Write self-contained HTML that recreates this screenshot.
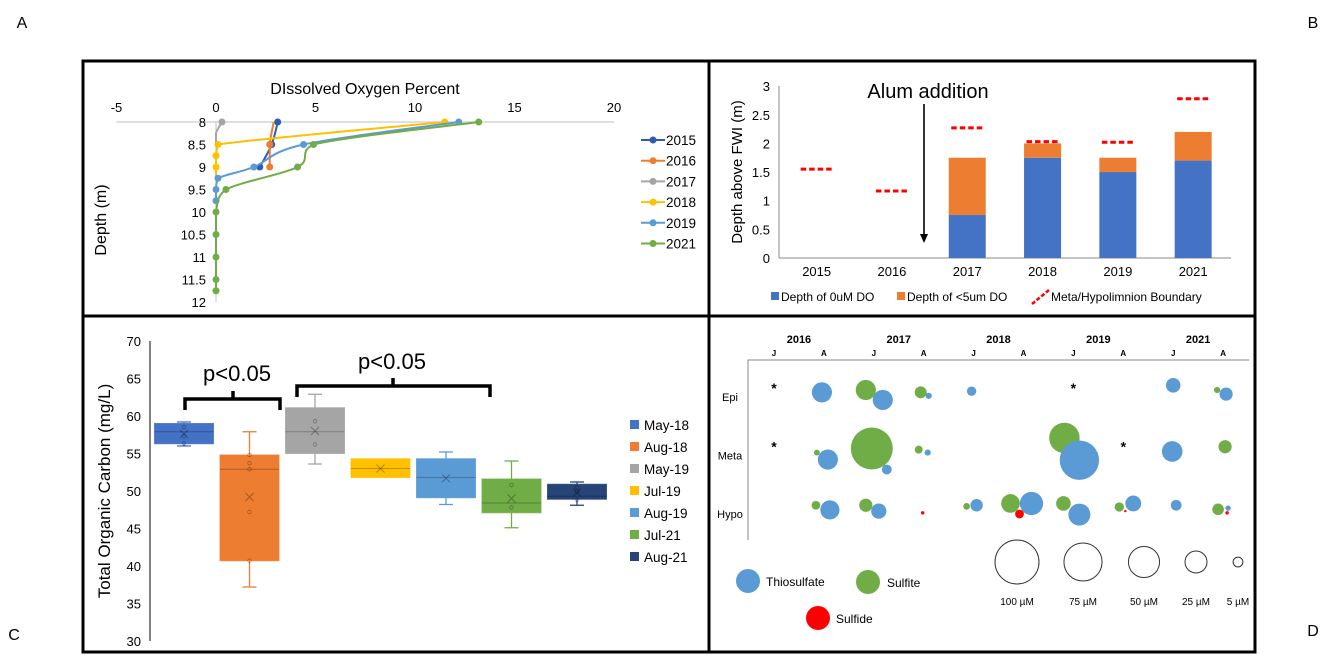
<!DOCTYPE html>
<html><head><meta charset="utf-8"><style>
html,body{margin:0;padding:0;background:#fff}
svg{display:block;font-family:"Liberation Sans",sans-serif}
</style></head><body>
<svg id="fig" width="1325" height="658" viewBox="0 0 1325 658">
<text x="22" y="28" font-size="16" text-anchor="middle">A</text>
<text x="1313" y="28" font-size="16" text-anchor="middle">B</text>
<text x="14" y="640" font-size="16" text-anchor="middle">C</text>
<text x="1313" y="636" font-size="16" text-anchor="middle">D</text>
<rect x="83" y="61" width="1172" height="591" fill="none" stroke="#000" stroke-width="3"/>
<line x1="709" y1="61" x2="709" y2="652" stroke="#000" stroke-width="3"/>
<line x1="83" y1="316" x2="1255" y2="316" stroke="#000" stroke-width="3"/>
<g id="pA"></g>
<g id="pB"></g>
<g id="pC"></g>
<g id="pD"></g>
</svg>
<script>
const NS='http://www.w3.org/2000/svg';
function mk(p,t,a,txt){const e=document.createElementNS(NS,t);for(const k in a)e.setAttribute(k,a[k]);if(txt!==undefined)e.textContent=txt;p.appendChild(e);return e;}

// ===== Panel A data =====
const doYears=['2015','2016','2017','2018','2019','2021'];
const doColors=['#2F5DAE','#ED7D31','#A5A5A5','#FFC000','#5B9BD5','#70AD47'];
const do2015=[[3.1,8],[2.8,8.5],[2.2,9]];
const do2016=[[2.9,8],[2.7,8.5],[2.7,9]];
const do2017=[[0.3,8],[0,8.25],[0,8.5]];
const do2018=[[11.5,8],[0.1,8.5],[0,8.75],[0,9],[0,9.25]];
const do2019=[[12.2,8],[4.4,8.5],[1.9,9],[0.1,9.25],[0,9.5],[0,9.75]];
const do2021=[[13.2,8],[4.9,8.5],[4.1,9],[0.5,9.5],[0,10],[0,10.5],[0,11],[0,11.5],[0,11.75]];
const doXTicks=[-5,0,5,10,15,20];
const doYTicks=[8,8.5,9,9.5,10,10.5,11,11.5,12];
const doMarkers=[[0,1,2],[1,2],[0],[0,1,2,3],[0,1,2,3,4,5],[0,1,2,3,4,5,6,7,8]];

// ===== Panel B data =====
const bCats=['2015','2016','2017','2018','2019','2021'];
const bZero=[0,0,0.75,1.75,1.5,1.7];
const bLow=[0,0,1.75,2.0,1.75,2.2];
const bBoundary=[1.55,1.17,2.27,2.03,2.02,2.78];
const bTicks=[0,0.5,1,1.5,2,2.5,3];

// ===== Panel C data =====
const cCats=['May-18','Aug-18','May-19','Jul-19','Aug-19','Jul-21','Aug-21'];
const cColors=['#4472C4','#ED7D31','#A5A5A5','#FFC000','#5B9BD5','#70AD47','#264478'];
const cMin=[56,37.2,53.6,51.8,48.2,45.1,48.1];
const cQ1=[56.3,40.7,55,51.8,49.1,47.1,48.9];
const cMed=[57.9,52.9,57.9,53,51.8,48.4,49.3];
const cQ3=[59,54.8,61.1,54.3,54.3,51.6,50.9];
const cMax=[59.2,57.9,62.9,54.3,55.2,54,51.2];
const cMean=[57.6,49.2,58,53,51.7,49,49.8];
const cPoints=[[58.5,57.3,56.3],[54.8,53.7,52.9,47.2,40.7],[59.3,56.2],[],[],[50.8,47.8],[50.5,49.9,48.8]];
const cTicks=[30,35,40,45,50,55,60,65,70];

// ===== Panel D data =====
const dYears=['2016','2017','2018','2019','2021'];
const dMonths=['J','A','J','A','J','A','J','A','J','A'];
const dRows=['Epi','Meta','Hypo'];
const dThio=[[0,0.96,-0.08,21],[0,2.18,0.05,21],[0,3.10,-0.02,2],[0,3.96,-0.10,4.5],[0,8.0,-0.20,11],[0,9.06,-0.05,9],
 [1,1.08,0.07,21],[1,2.26,0.24,5],[1,3.08,-0.05,2],[1,6.12,0.08,80],[1,7.98,-0.07,22],
 [2,1.12,-0.07,19],[2,2.10,-0.05,12],[2,4.06,-0.15,8],[2,5.16,-0.18,28],[2,6.12,0.01,25],[2,7.20,-0.18,13],[2,8.06,-0.15,6],[2,9.10,-0.10,1.5]];
const dSulfite=[[0,1.84,-0.12,21],[0,2.94,-0.08,7.4],[0,8.88,-0.12,2],
 [1,0.86,-0.05,1.8],[1,1.96,-0.12,91],[1,2.90,-0.10,3.3],[1,5.82,-0.30,48],[1,9.04,-0.15,9],
 [2,0.84,-0.15,4],[2,1.84,-0.15,9],[2,3.86,-0.13,2.3],[2,4.74,-0.18,18],[2,5.80,-0.18,11],[2,6.92,-0.12,4.5],[2,8.90,-0.08,7]];
const dSulfide=[[2,2.98,-0.02,0.6],[2,4.92,0.0,4],[2,7.04,-0.05,0.3],[2,9.08,-0.02,0.6]];
const dMissing=[[0,0],[0,6],[1,0],[1,7]];
const dScale=[100,75,50,25,5];

function clamp(v,a,b){const lo=Math.min(a,b),hi=Math.max(a,b);return Math.max(lo,Math.min(hi,v));}
function smoothPath(pts){
 if(pts.length<2)return '';
 let d='M'+pts[0][0]+' '+pts[0][1];
 for(let i=0;i<pts.length-1;i++){
  const p0=pts[i-1]||pts[i],p1=pts[i],p2=pts[i+1],p3=pts[i+2]||p2;
  const c1=[clamp(p1[0]+(p2[0]-p0[0])/6,p1[0],p2[0]),p1[1]+(p2[1]-p0[1])/6];
  const c2=[clamp(p2[0]-(p3[0]-p1[0])/6,p1[0],p2[0]),p2[1]-(p3[1]-p1[1])/6];
  d+=' C'+c1[0]+' '+c1[1]+','+c2[0]+' '+c2[1]+','+p2[0]+' '+p2[1];
 }
 return d;
}

// ===== Draw Panel A =====
(function(){
 const g=document.getElementById('pA');
 const x=v=>216+(v)*19.9, y=d=>122+(d-8)*45;
 mk(g,'text',{x:365,y:94,'font-size':16,'text-anchor':'middle',},'DIssolved Oxygen Percent');
 doXTicks.forEach(t=>{const e=mk(g,'text',{x:x(t),y:112,'font-size':13,'text-anchor':'middle'},String(t));
  
  });
 mk(g,'line',{x1:x(-5),y1:y(8),x2:x(20),y2:y(8),stroke:'#ccc','stroke-width':1.2,});
 mk(g,'line',{x1:x(0),y1:y(8),x2:x(0),y2:y(12),stroke:'#ccc','stroke-width':1.2,});
 doYTicks.forEach(t=>{const e=mk(g,'text',{x:206,y:y(t)+5,'font-size':13,'text-anchor':'end'},String(t));
  
  });
 mk(g,'text',{x:106,y:220,'font-size':16,'text-anchor':'middle',transform:'rotate(-90 106 220)',},'Depth (m)');
 const series=[do2015,do2016,do2017,do2018,do2019,do2021];
 series.forEach((s,i)=>{
  const pts=s.map(p=>[x(p[0]),y(p[1])]);
  const l=mk(g,'path',{d:smoothPath(pts),fill:'none',stroke:doColors[i],'stroke-width':2});
  
  
  doMarkers[i].forEach(k=>{const c=mk(g,'circle',{cx:x(s[k][0]),cy:y(s[k][1]),r:3.5,fill:doColors[i]});
   
   });
  const ly=140+i*20.7;
  const lg=mk(g,'g',{});
  
  
  mk(lg,'line',{x1:641,y1:ly,x2:665,y2:ly,stroke:doColors[i],'stroke-width':2});
  mk(lg,'circle',{cx:653,cy:ly,r:3.5,fill:doColors[i]});
  mk(lg,'text',{x:666,y:ly+5,'font-size':13.5},doYears[i]);
 });
})();

// ===== Draw Panel B =====
(function(){
 const g=document.getElementById('pB');
 const y=v=>258-v*57.3, x0=779, bw=75.3, cx=i=>x0+bw*(i+0.5);
 mk(g,'line',{x1:x0,y1:86,x2:x0,y2:258,stroke:'#888','stroke-width':1,});
 mk(g,'line',{x1:x0,y1:258,x2:1231,y2:258,stroke:'#888','stroke-width':1,});
 bTicks.forEach(t=>{const e=mk(g,'text',{x:770,y:y(t)+5,'font-size':13,'text-anchor':'end'},String(t));
  
  });
 mk(g,'text',{x:742,y:172,'font-size':15,'text-anchor':'middle',transform:'rotate(-90 742 172)',},'Depth above FWI (m)');
 bCats.forEach((c,i)=>{
  const t=mk(g,'text',{x:cx(i),y:276,'font-size':13,'text-anchor':'middle'},c);
  
  
  if(bZero[i]>0){const r=mk(g,'rect',{x:cx(i)-18.5,y:y(bZero[i]),width:37,height:y(0)-y(bZero[i]),fill:'#4472C4'});
   
   }
  if(bLow[i]>bZero[i]){const r=mk(g,'rect',{x:cx(i)-18.5,y:y(bLow[i]),width:37,height:y(bZero[i])-y(bLow[i]),fill:'#ED7D31'});
   
   }
  const d=mk(g,'line',{x1:cx(i)-16,y1:y(bBoundary[i]),x2:cx(i)+16,y2:y(bBoundary[i]),stroke:'#F00','stroke-width':3,'stroke-dasharray':'5.5 3'});
  
  
 });
 mk(g,'text',{x:928,y:98,'font-size':20,'text-anchor':'middle',},'Alum addition');
 mk(g,'line',{x1:924,y1:104,x2:924,y2:236,stroke:'#000','stroke-width':1.6,});
 mk(g,'path',{d:'M920 234 L928 234 L924 243 Z',fill:'#000',});
 const lg=mk(g,'g',{});
 mk(lg,'rect',{x:771,y:292,width:8,height:8,fill:'#4472C4'});
 mk(lg,'text',{x:781,y:301,'font-size':12},'Depth of 0uM DO');
 mk(lg,'rect',{x:897,y:292,width:8,height:8,fill:'#ED7D31'});
 mk(lg,'text',{x:907,y:301,'font-size':12},'Depth of <5um DO');
 mk(lg,'line',{x1:1032,y1:304,x2:1049,y2:290,stroke:'#F00','stroke-width':2.5,'stroke-dasharray':'4 2'});
 mk(lg,'text',{x:1051,y:301,'font-size':12},'Meta/Hypolimnion Boundary');
})();

// ===== Draw Panel C =====
(function(){
 const g=document.getElementById('pC');
 const y=v=>641-(v-30)*7.5, cx=i=>184+i*65.5, hw=29.5;
 mk(g,'line',{x1:150,y1:341,x2:150,y2:641,stroke:'#000','stroke-width':1,});
 cTicks.forEach(t=>{const e=mk(g,'text',{x:141,y:y(t)+5,'font-size':13,'text-anchor':'end'},String(t));
  
  });
 mk(g,'text',{x:110,y:491,'font-size':17,'text-anchor':'middle',transform:'rotate(-90 110 491)',},'Total Organic Carbon (mg/L)');
 cCats.forEach((c,i)=>{
  const bg=mk(g,'g',{});
  
  
  const col=cColors[i];
  if(cMax[i]>cQ3[i]){mk(bg,'line',{x1:cx(i),y1:y(cMax[i]),x2:cx(i),y2:y(cQ3[i]),stroke:col,'stroke-width':1.3});
   mk(bg,'line',{x1:cx(i)-7,y1:y(cMax[i]),x2:cx(i)+7,y2:y(cMax[i]),stroke:col,'stroke-width':1.3});}
  if(cMin[i]<cQ1[i]){mk(bg,'line',{x1:cx(i),y1:y(cMin[i]),x2:cx(i),y2:y(cQ1[i]),stroke:col,'stroke-width':1.3});
   mk(bg,'line',{x1:cx(i)-7,y1:y(cMin[i]),x2:cx(i)+7,y2:y(cMin[i]),stroke:col,'stroke-width':1.3});}
  mk(bg,'rect',{x:cx(i)-hw,y:y(cQ3[i]),width:2*hw,height:y(cQ1[i])-y(cQ3[i]),fill:col,stroke:col,'stroke-width':1,'stroke-opacity':0.8});
  mk(bg,'line',{x1:cx(i)-hw,y1:y(cMed[i]),x2:cx(i)+hw,y2:y(cMed[i]),stroke:'rgba(0,0,0,0.25)','stroke-width':1});
  const m=y(cMean[i]);
  mk(bg,'path',{d:`M${cx(i)-4} ${m-4} L${cx(i)+4} ${m+4} M${cx(i)+4} ${m-4} L${cx(i)-4} ${m+4}`,stroke:'rgba(0,0,0,0.3)','stroke-width':1});
  cPoints[i].forEach(p=>mk(bg,'circle',{cx:cx(i),cy:y(p),r:1.8,fill:'none',stroke:'rgba(0,0,0,0.3)','stroke-width':0.8}));
  const ly=425+i*22;
  const lg=mk(g,'g',{});
  
  
  mk(lg,'rect',{x:630,y:ly-5,width:9,height:9,fill:col});
  mk(lg,'text',{x:644,y:ly+5,'font-size':13.5},c);
 });
 mk(g,'path',{d:'M185 410 L185 399 L280 399 L280 410 M233 399 L233 391',fill:'none',stroke:'#000','stroke-width':3.5,});
 mk(g,'text',{x:237,y:381,'font-size':22,'text-anchor':'middle',},'p<0.05');
 mk(g,'path',{d:'M297 397 L297 386 L490 386 L490 397 M393 386 L393 378',fill:'none',stroke:'#000','stroke-width':3.5,});
 mk(g,'text',{x:392,y:369,'font-size':22,'text-anchor':'middle',},'p<0.05');
})();

// ===== Draw Panel D =====
(function(){
 const g=document.getElementById('pD');
 const sx=s=>774+s*49.9, ry=r=>397+r*58.5, rad=c=>2.2*Math.sqrt(c);
 dYears.forEach((t,i)=>{const e=mk(g,'text',{x:sx(2*i+0.5),y:343,'font-size':11,'font-weight':'bold','text-anchor':'middle'},t);
  
  });
 dMonths.forEach((m,i)=>{const e=mk(g,'text',{x:sx(i),y:356,'font-size':8,'font-weight':'bold','text-anchor':'middle'},m);
  
  });
 mk(g,'path',{d:'M748 540 L748 360 L1249 360',fill:'none',stroke:'#888','stroke-width':1,});
 dRows.forEach((r,i)=>{const e=mk(g,'text',{x:730,y:ry(i)+4,'font-size':11,'text-anchor':'middle'},r);
  
  });
 function bubbles(arr,col,name){arr.forEach(b=>{
  const c=mk(g,'circle',{cx:sx(b[1]),cy:ry(b[0])+b[2]*58.5,r:rad(b[3]),fill:col});
  
  });}
 bubbles(dSulfite,'#70AD47','d-bubble-sulfite');
 bubbles(dThio,'#5B9BD5','d-bubble-thiosulfate');
 bubbles(dSulfide,'#FF0000','d-bubble-sulfide');
 dMissing.forEach(m=>{const e=mk(g,'text',{x:sx(m[1]),y:ry(m[0])-4,'font-size':14,'font-weight':'bold','text-anchor':'middle'},'*');
  
  });
 const lg=mk(g,'g',{});
 mk(lg,'circle',{cx:748,cy:581,r:12,fill:'#5B9BD5'});
 mk(lg,'text',{x:766,y:586,'font-size':12},'Thiosulfate');
 mk(lg,'circle',{cx:868,cy:582,r:12,fill:'#70AD47'});
 mk(lg,'text',{x:887,y:587,'font-size':12},'Sulfite');
 mk(lg,'circle',{cx:818,cy:618,r:12,fill:'#FF0000'});
 mk(lg,'text',{x:836,y:623,'font-size':12},'Sulfide');
 const scx=[1017,1083,1144,1196,1238];
 dScale.forEach((v,i)=>{
  const c=mk(g,'circle',{cx:scx[i],cy:562,r:rad(v),fill:'none',stroke:'#333','stroke-width':1});
  
  
  const t=mk(g,'text',{x:scx[i],y:605,'font-size':10,'text-anchor':'middle'},v+' µM');
  
  
 });
})();
</script>
</body></html>
